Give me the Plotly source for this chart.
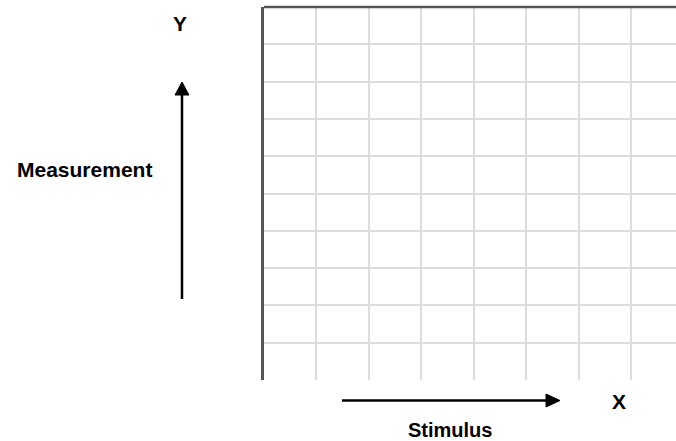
import plotly.graph_objects as go

# Grid / axis definition (empty chart template)
x_ticks = [0, 1, 2, 3, 4, 5, 6, 7]
y_ticks = [0, 1, 2, 3, 4, 5, 6, 7, 8, 9, 10]
x_range = [0, 7.85]
y_range = [0, 10]
x_title = "Stimulus"
y_title = "Measurement"
x_letter = "X"
y_letter = "Y"

W, H = 676, 441
L, R, T, B = 264, 0, 7, 61
PW, PH = W - L - R, H - T - B


def px(x):
    return (x - L) / PW


def py(y):
    return (H - B - y) / PH


fig = go.Figure()
fig.add_trace(go.Scatter(x=[], y=[], mode="markers", showlegend=False))

font = dict(family="Liberation Sans, Arial, sans-serif", size=21, color="#000000")
font_small = dict(family="Liberation Sans, Arial, sans-serif", size=20, color="#000000")

shapes = []
# top border (dark)
shapes.append(dict(type="line", xref="paper", yref="paper", x0=0, x1=1, y0=1, y1=1,
                   line=dict(color="#555555", width=2.5)))
# vertical arrow
shapes.append(dict(type="line", xref="paper", yref="paper", x0=px(182), x1=px(182),
                   y0=py(299), y1=py(93), line=dict(color="#000000", width=2.5)))
shapes.append(dict(type="path", xref="paper", yref="paper",
                   path=f"M {px(175)},{py(95)} L {px(182)},{py(82)} L {px(189)},{py(95)} Z",
                   fillcolor="#000000", line=dict(color="#000000", width=1)))
# horizontal arrow
shapes.append(dict(type="line", xref="paper", yref="paper", x0=px(342), x1=px(548),
                   y0=py(400.5), y1=py(400.5), line=dict(color="#000000", width=2.5)))
shapes.append(dict(type="path", xref="paper", yref="paper",
                   path=f"M {px(546)},{py(394)} L {px(560)},{py(400.5)} L {px(546)},{py(407)} Z",
                   fillcolor="#000000", line=dict(color="#000000", width=1)))

annotations = [
    dict(text=f"<b>{y_letter}</b>", x=px(180), y=py(23), xref="paper", yref="paper",
         showarrow=False, font=font, xanchor="center", yanchor="middle"),
    dict(text=f"<b>{y_title}</b>", x=px(84), y=py(170), xref="paper", yref="paper",
         showarrow=False, font=font, xanchor="center", yanchor="middle"),
    dict(text=f"<b>{x_letter}</b>", x=px(619), y=py(401), xref="paper", yref="paper",
         showarrow=False, font=font, xanchor="center", yanchor="middle"),
    dict(text=f"<b>{x_title}</b>", x=px(450), y=py(429.5), xref="paper", yref="paper",
         showarrow=False, font=font_small, xanchor="center", yanchor="middle"),
]

fig.update_layout(
    width=W, height=H,
    margin=dict(l=L, r=R, t=T, b=B, pad=0),
    paper_bgcolor="#ffffff", plot_bgcolor="#ffffff",
    showlegend=False,
    shapes=shapes,
    annotations=annotations,
    xaxis=dict(range=x_range, tickvals=x_ticks, showticklabels=False, ticks="",
               showgrid=True, gridcolor="#dcdcdc", gridwidth=2, zeroline=False,
               showline=False, fixedrange=True),
    yaxis=dict(range=y_range, tickvals=y_ticks, showticklabels=False, ticks="",
               showgrid=True, gridcolor="#dcdcdc", gridwidth=2, zeroline=False,
               showline=True, linecolor="#555555", linewidth=3, fixedrange=True),
)

fig.write_html(
    "out.html",
    config=dict(displayModeBar=False),
    post_script="document.body.style.margin='0';document.body.style.overflow='hidden';",
)
